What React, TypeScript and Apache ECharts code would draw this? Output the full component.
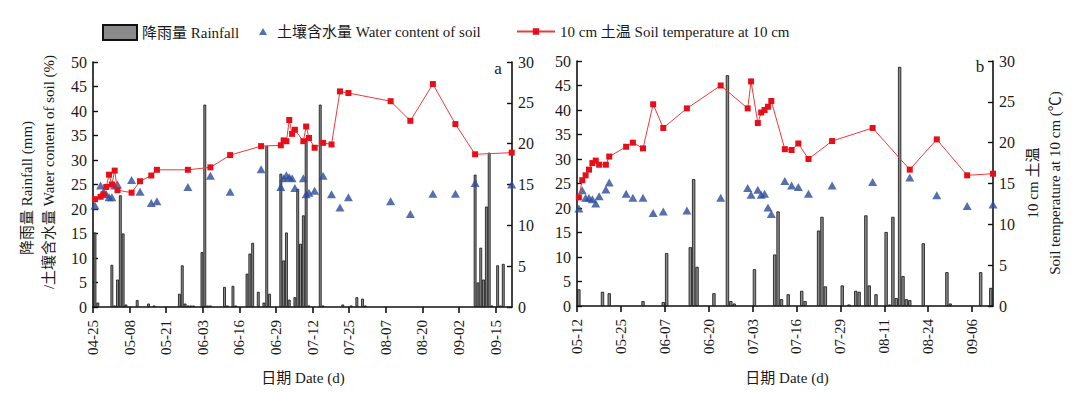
import React, { useEffect, useRef } from "react";
import * as echarts from "echarts";

const FONT = "'Liberation Serif', 'Times New Roman', 'Noto Sans CJK SC', serif";

const RAIN = "降雨量 Rainfall";
const WATER = "土壤含水量 Water content of soil";
const TEMP = "10 cm 土温 Soil temperature at 10 cm";

// ---------- Panel a: days counted from 04-25 ----------
const startA: [number, number] = [4, 25];
const maxA = 148.8;
const ticksA = [0, 13, 26, 39, 52, 65, 78, 91, 104, 117, 130, 143];
const rainDaysA = [0, 1, 6, 7, 8, 9, 10, 11, 15, 19, 21, 30, 31, 32, 33, 34, 35, 38, 39, 40, 41, 46, 47, 49, 50, 54, 55, 56, 58, 60, 61, 62, 66, 67, 68, 69, 71, 72, 73, 74, 75, 76, 80, 81, 88, 91, 93, 95, 96, 135, 136, 137, 138, 139, 140, 141, 143, 144, 145];
const rainA = [15.2, 0.9, 8.6, 0.3, 5.6, 22.8, 15.0, 0.5, 1.4, 0.7, 0.3, 2.7, 8.5, 0.7, 0.3, 0.3, 0.3, 11.2, 41.3, 0.3, 0.3, 4.1, 0.3, 4.3, 0.3, 6.8, 10.9, 13.1, 3.1, 0.9, 32.9, 2.7, 27.2, 9.5, 15.2, 1.5, 2.0, 24.1, 12.9, 18.7, 34.0, 0.3, 41.3, 0.3, 0.5, 0.3, 2.0, 1.7, 0.3, 27.0, 5.0, 12.1, 5.6, 20.5, 31.5, 0.3, 8.5, 0.3, 8.8];
const measDaysA = [0, 2, 3, 4, 5, 6, 7, 8, 13, 16, 20, 22, 33, 41, 48, 59, 66, 67, 68, 69, 70, 71, 74, 75, 76, 78, 81, 84, 87, 90, 105, 112, 120, 128, 135, 148];
const waterA = [20.7, 24.8, 23.5, 23.0, 22.4, 22.4, 24.8, 25.0, 25.9, 23.5, 21.2, 21.6, 24.5, 26.8, 23.5, 28.1, 24.5, 26.3, 26.9, 26.5, 26.3, 24.3, 26.3, 23.0, 23.3, 23.7, 26.8, 23.0, 20.3, 22.4, 21.6, 19.0, 23.1, 23.1, 25.3, 25.0];
const tempA = [13.2, 13.5, 13.8, 14.7, 16.2, 15.0, 16.7, 14.3, 14.0, 15.4, 16.1, 16.8, 16.8, 17.1, 18.6, 19.7, 19.8, 20.4, 20.3, 22.9, 21.2, 21.7, 20.3, 22.1, 20.7, 19.5, 20.1, 19.9, 26.4, 26.2, 25.2, 22.8, 27.3, 22.4, 18.7, 18.9];

// ---------- Panel b: days counted from 05-12 ----------
const startB: [number, number] = [5, 12];
const maxB = 123.2;
const ticksB = [0, 13, 26, 39, 52, 65, 78, 91, 104, 117];
const rainDaysB = [0, 7, 9, 19, 25, 26, 33, 34, 35, 40, 44, 45, 46, 52, 58, 59, 60, 62, 66, 67, 71, 72, 73, 78, 80, 82, 83, 85, 86, 88, 91, 92, 93, 94, 95, 96, 97, 98, 102, 109, 110, 119, 122];
const rainB = [3.4, 2.9, 2.6, 1.0, 0.8, 10.8, 12.0, 25.9, 8.0, 2.6, 47.1, 1.0, 0.5, 7.5, 10.5, 19.3, 1.4, 2.4, 3.1, 1.0, 15.4, 18.2, 4.0, 4.2, 0.3, 3.1, 2.9, 18.5, 4.2, 2.4, 15.1, 0.3, 18.2, 1.6, 48.8, 6.1, 1.4, 1.2, 12.8, 6.9, 0.5, 6.9, 3.7];
const measDaysB = [0, 1, 2, 3, 4, 5, 6, 8, 9, 14, 16, 19, 22, 25, 32, 42, 50, 51, 53, 54, 55, 56, 57, 61, 63, 65, 68, 75, 87, 98, 106, 115, 123];
const waterB = [19.9, 23.6, 22.1, 22.1, 21.8, 20.9, 22.4, 23.8, 25.2, 22.9, 22.1, 22.1, 19.0, 19.3, 19.5, 22.1, 24.1, 22.7, 23.7, 22.7, 22.9, 20.1, 18.8, 25.5, 24.6, 24.3, 22.9, 24.6, 25.3, 26.2, 22.6, 20.4, 20.7];
const tempB = [13.3, 15.4, 16.0, 16.7, 17.5, 17.8, 17.3, 17.3, 18.3, 19.5, 20.0, 19.3, 24.7, 21.8, 24.2, 27.0, 24.2, 27.5, 22.4, 23.7, 24.0, 24.4, 25.1, 19.2, 19.1, 19.9, 18.0, 20.2, 21.8, 16.7, 20.4, 16.0, 16.2];

const leftTicks = [0, 5, 10, 15, 20, 25, 30, 35, 40, 45, 50];
const rightTicks = [0, 5, 10, 15, 20, 25, 30];

const pad = (n: number) => (n < 10 ? "0" + n : "" + n);
const dateFmt = (start: [number, number]) => (v: number) => {
  const d = new Date(Date.UTC(2021, start[0] - 1, start[1] + Math.round(v)));
  return pad(d.getUTCMonth() + 1) + "-" + pad(d.getUTCDate());
};

const pts = (days: number[], vals: number[], off: number, max: number) =>
  days.map((d, i) => [Math.max(0, Math.min(max, d + off)), vals[i]]);

const BLACK = "#111";
const axisLine = { show: true, onZero: false, lineStyle: { color: BLACK, width: 1.6 } };
const labelText = { fontFamily: FONT, color: "#1a1a1a" };

function xAxis(grid: number, max: number, ticks: number[], start: [number, number]) {
  return {
    type: "value",
    gridIndex: grid,
    min: 0,
    max,
    axisLine,
    axisTick: { show: true, inside: false, length: 6, customValues: ticks, lineStyle: { color: BLACK, width: 1.6 } },
    axisLabel: { ...labelText, fontSize: 15, rotate: 90, margin: 13, customValues: ticks, formatter: dateFmt(start) },
    splitLine: { show: false },
  };
}

function yAxis(grid: number, pos: string, max: number, ticks: number[]) {
  return {
    type: "value",
    gridIndex: grid,
    position: pos,
    min: 0,
    max,
    interval: 5,
    axisLine,
    axisTick: { show: true, inside: true, length: 5, lineStyle: { color: BLACK, width: 1.4 } },
    axisLabel: { ...labelText, fontSize: 16, margin: 6, customValues: ticks },
    splitLine: { show: false },
  };
}

function panelSeries(
  xi: number,
  yl: number,
  yr: number,
  rainDays: number[],
  rain: number[],
  measDays: number[],
  water: number[],
  temp: number[],
  off: number,
  max: number,
  bw: number
) {
  return [
    {
      name: RAIN,
      type: "bar",
      xAxisIndex: xi,
      yAxisIndex: yl,
      barWidth: bw,
      data: pts(rainDays, rain, off, max),
      itemStyle: { color: "#8a8a8a", borderColor: "#111", borderWidth: 0.8 },
      z: 2,
    },
    {
      name: WATER,
      type: "scatter",
      xAxisIndex: xi,
      yAxisIndex: yl,
      symbol: "triangle",
      symbolSize: [9, 8],
      data: pts(measDays, water, off, max),
      itemStyle: { color: "#2b4b9b" },
      z: 3,
    },
    {
      name: TEMP,
      type: "line",
      xAxisIndex: xi,
      yAxisIndex: yr,
      symbol: "rect",
      symbolSize: 6,
      data: pts(measDays, temp, off, max),
      itemStyle: { color: "#e60f19" },
      lineStyle: { color: "#ec3b3b", width: 1 },
      z: 4,
    },
  ];
}

function vText(text: string, x: number, y: number, size = 15) {
  return {
    type: "text",
    x,
    y,
    rotation: Math.PI / 2,
    style: {
      text,
      fontSize: size,
      fontFamily: FONT,
      fill: "#1a1a1a",
      align: "center",
      verticalAlign: "middle",
      textAlign: "center",
      textVerticalAlign: "middle",
    },
  };
}

function hText(text: string, x: number, y: number, size = 15) {
  return {
    type: "text",
    x,
    y,
    style: {
      text,
      fontSize: size,
      fontFamily: FONT,
      fill: "#1a1a1a",
      align: "center",
      verticalAlign: "middle",
      textAlign: "center",
      textVerticalAlign: "middle",
    },
  };
}

export default function App() {
  const ref = useRef<HTMLDivElement>(null);
  useEffect(() => {
    if (!ref.current) return;
    const chart = echarts.init(ref.current, undefined, { renderer: "svg" });
    const legendText = { fontFamily: FONT, fontSize: 15, color: "#1a1a1a" };
    const option: any = {
      animation: false,
      backgroundColor: "#fff",
      legend: [
        { data: [{ name: RAIN, icon: "rect" }], left: 102, top: 24, padding: 0, itemWidth: 34, itemHeight: 15, textStyle: legendText, selectedMode: false },
        { data: [{ name: WATER }], left: 259, top: 24, padding: 0, itemWidth: 8, itemHeight: 7, textStyle: { ...legendText, padding: [0, 0, 0, 5] }, selectedMode: false },
        { data: [{ name: TEMP }], left: 516, top: 24, padding: 0, itemWidth: 38, itemHeight: 8, textStyle: legendText, selectedMode: false },
      ],
      grid: [
        { left: 93, top: 62, width: 419, height: 245 },
        { left: 577, top: 61, width: 416, height: 245 },
      ],
      xAxis: [xAxis(0, maxA, ticksA, startA), xAxis(1, maxB, ticksB, startB)],
      yAxis: [
        yAxis(0, "left", 50, leftTicks),
        yAxis(0, "right", 30, rightTicks),
        yAxis(1, "left", 50, leftTicks),
        yAxis(1, "right", 30, rightTicks),
      ],
      series: [
        ...panelSeries(0, 0, 1, rainDaysA, rainA, measDaysA, waterA, tempA, 0.7, maxA, 2.8),
        ...panelSeries(1, 2, 3, rainDaysB, rainB, measDaysB, waterB, tempB, 0.55, maxB, 3.3),
      ],
      graphic: [
        vText("降雨量 Rainfall (mm)", 27, 188),
        vText("/土壤含水量 Water content of soil (%)", 49, 172),
        vText("10 cm 土温", 1033, 183),
        vText("Soil temperature at 10 cm (℃)", 1055, 183),
        hText("日期 Date (d)", 303, 378),
        hText("日期 Date (d)", 787, 378),
        hText("a", 498, 68, 17),
        hText("b", 980, 66, 17),
      ],
    };
    chart.setOption(option);
    return () => chart.dispose();
  }, []);
  return (
    <div
      ref={ref}
      style={{ position: "fixed", left: 0, top: 0, width: 1089, height: 393, background: "#fff" }}
    />
  );
}
